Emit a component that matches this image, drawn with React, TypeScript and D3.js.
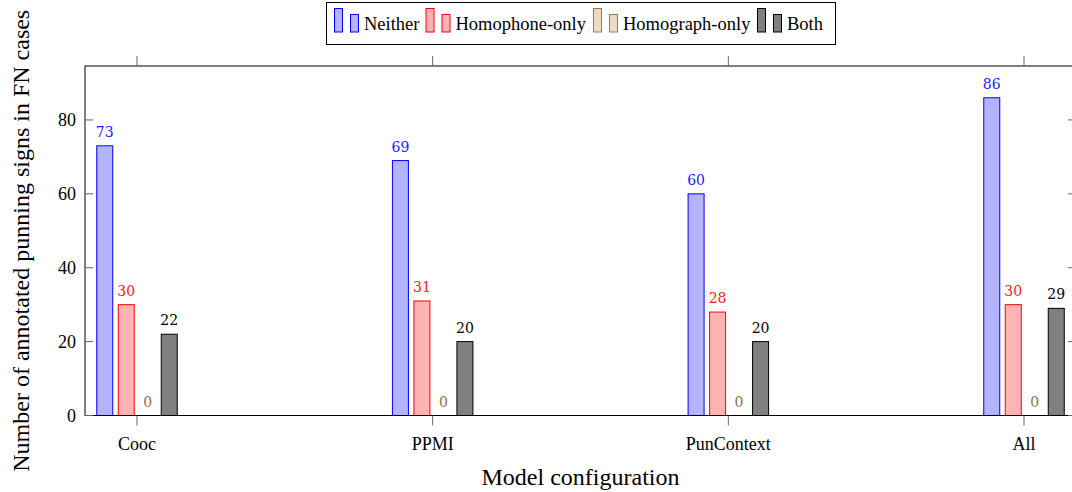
import React, { useEffect, useRef } from "react";
import * as d3 from "d3";

// data
const categories = ["Cooc", "PPMI", "PunContext", "All"];
const seriesNames = ["Neither", "Homophone-only", "Homograph-only", "Both"];
const neither = [73, 69, 60, 86];
const homophoneOnly = [30, 31, 28, 30];
const homographOnly = [0, 0, 0, 0];
const both = [22, 20, 20, 29];
const yTicks = [0, 20, 40, 60, 80];

const seriesValues = [neither, homophoneOnly, homographOnly, both];
const fills = ["#b3b3ff", "#ffb3b3", "#ecd9c6", "#808080"];
const strokes = ["#0000ff", "#ff0000", "#a0764f", "#000000"];
const labelColors = ["#2020ff", "#ff2020", "#8f6c4c", "#000000"];

const FONT = "'Liberation Serif', 'Times New Roman', serif";

export default function App() {
	const ref = useRef<SVGSVGElement>(null);

	useEffect(() => {
		const svg = d3.select(ref.current);
		svg.selectAll("*").remove();

		const left = 85, right = 1076, top = 66, bottom = 415.5;
		const pad = 52;

		const x = d3
			.scalePoint()
			.domain(categories)
			.range([left + pad, right - pad]);
		const y = d3
			.scaleLinear()
			.domain([0, 86 * 1.1])
			.range([bottom, top]);

		const barW = 16;
		const step = 21.5;
		const offset = (i) => (i - 1.5) * step;

		// frame
		svg
			.append("rect")
			.attr("x", left)
			.attr("y", top)
			.attr("width", right - left)
			.attr("height", bottom - top)
			.attr("fill", "none")
			.attr("stroke", "#000")
			.attr("stroke-width", 1);

		// bars
		seriesValues.forEach((vals, s) => {
			const g = svg.append("g");
			g.selectAll("rect")
				.data(vals)
				.enter()
				.append("rect")
				.attr("x", (d, i) => x(categories[i]) + offset(s) - barW / 2)
				.attr("y", d => y(d))
				.attr("width", barW)
				.attr("height", d => bottom - y(d))
				.attr("fill", fills[s])
				.attr("stroke", strokes[s])
				.attr("stroke-width", 1);
			g.selectAll("text")
				.data(vals)
				.enter()
				.append("text")
				.attr("x", (d, i) => x(categories[i]) + offset(s))
				.attr("y", d => y(d) - 9)
				.attr("text-anchor", "middle")
				.attr("font-family", "'DejaVu Serif', serif")
				.attr("font-size", 14)
				.attr("fill", labelColors[s])
				.text(d => d);
		});

		// redraw bottom line over zero-height bars
		svg
			.append("line")
			.attr("x1", left)
			.attr("x2", right)
			.attr("y1", bottom)
			.attr("y2", bottom)
			.attr("stroke", "#000");

		// x ticks (outside, top and bottom)
		const xt = svg.append("g").attr("stroke", "#666");
		categories.forEach(c => {
			xt.append("line").attr("x1", x(c)).attr("x2", x(c)).attr("y1", bottom).attr("y2", bottom + 10);
			xt.append("line").attr("x1", x(c)).attr("x2", x(c)).attr("y1", top).attr("y2", top - 10);
		});
		svg
			.selectAll(".xlab")
			.data(categories)
			.enter()
			.append("text")
			.attr("x", d => x(d))
			.attr("y", 450)
			.attr("text-anchor", "middle")
			.attr("font-family", FONT)
			.attr("font-size", 18)
			.text(d => d);

		// y ticks (inside, left and right)
		const yt = svg.append("g").attr("stroke", "#666");
		yTicks.forEach(t => {
			yt.append("line").attr("x1", left).attr("x2", left + 8).attr("y1", y(t)).attr("y2", y(t));
			yt.append("line").attr("x1", right).attr("x2", right - 8).attr("y1", y(t)).attr("y2", y(t));
		});
		svg
			.selectAll(".ylab")
			.data(yTicks)
			.enter()
			.append("text")
			.attr("x", 76)
			.attr("y", d => y(d) + 6)
			.attr("text-anchor", "end")
			.attr("font-family", FONT)
			.attr("font-size", 18)
			.text(d => d);

		// axis titles
		svg
			.append("text")
			.attr("x", (left + right) / 2)
			.attr("y", 485)
			.attr("text-anchor", "middle")
			.attr("font-family", FONT)
			.attr("font-size", 24)
			.text("Model configuration");
		svg
			.append("text")
			.attr("transform", `translate(29,${(top + bottom) / 2}) rotate(-90)`)
			.attr("text-anchor", "middle")
			.attr("font-family", FONT)
			.attr("font-size", 24)
			.text("Number of annotated punning signs in FN cases");

		// legend
		const lg = svg.append("g");
		lg.append("rect")
			.attr("x", 326.5)
			.attr("y", 2.5)
			.attr("width", 509)
			.attr("height", 42)
			.attr("fill", "#fff")
			.attr("stroke", "#000");
		const legendX = [334, 425.5, 593, 757];
		seriesNames.forEach((name, s) => {
			const lx = legendX[s];
			lg.append("rect")
				.attr("x", lx + 0.5).attr("y", 8.5).attr("width", 8).attr("height", 23.5)
				.attr("fill", fills[s]).attr("stroke", strokes[s]);
			lg.append("rect")
				.attr("x", lx + 16.5).attr("y", 14.5).attr("width", 8).attr("height", 17.5)
				.attr("fill", fills[s]).attr("stroke", strokes[s]);
			lg.append("text")
				.attr("x", lx + 30)
				.attr("y", 30)
				.attr("font-family", FONT)
				.attr("font-size", 18.5)
				.text(name);
		});
	}, []);

	return (
		<svg
			ref={ref}
			width={1072}
			height={492}
			style={{ position: "absolute", left: 0, top: 0, background: "#fff" }}
		/>
	);
}
